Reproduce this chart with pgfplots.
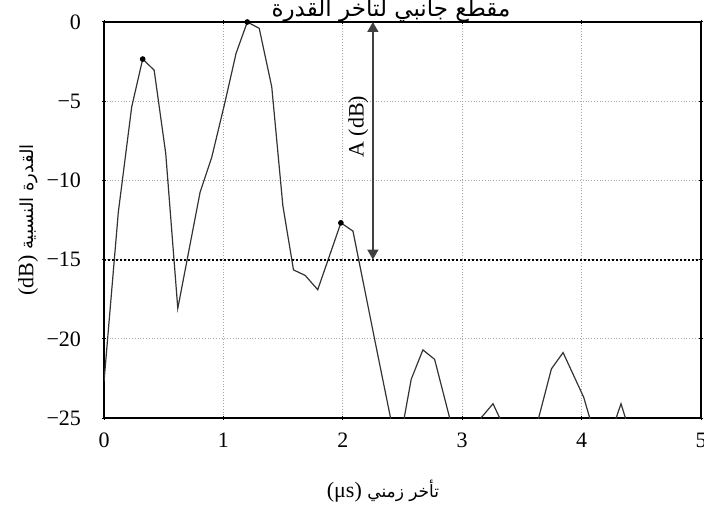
\documentclass[border=0pt]{standalone}
\usepackage{fontspec}
\setmainfont{Liberation Serif}
\newfontfamily\arabicfont[Script=Arabic]{DejaVu Sans}
\TeXXeTstate=1
\usepackage{pgfplots}
\pgfplotsset{compat=1.18}
\usetikzlibrary{arrows.meta}
\begin{document}
\begin{tikzpicture}
\begin{axis}[
 at={(0,0)}, anchor=south west,
 scale only axis, width=298.5pt, height=198pt,
 xmin=0,xmax=5,ymin=-25,ymax=0,
 xtick={0,1,2,3,4,5}, ytick={-25,-20,-15,-10,-5,0},
 yticklabels={−25,−20,−15,−10,−5,0},
 xticklabels={0,1,2,3,4,5},
 grid=major, major grid style={densely dotted, gray!70, line width=0.4pt},
 axis line style={line width=1pt},
 tick align=center, major tick length=2pt,
 tick style={black, line width=0.5pt},
 ticklabel style={font=\fontsize{11}{13}\selectfont},
 yticklabel style={xshift=-7pt},
 xticklabel style={yshift=-3pt},
]
\addplot[black!80, line width=0.6pt] coordinates {
(0,-22.7) (0.12,-12.0) (0.232,-5.36) (0.324,-2.34) (0.42,-3.04) (0.517,-8.3)
(0.618,-18.08) (0.805,-10.74) (0.903,-8.52) (1.014,-5.04) (1.106,-1.98) (1.2,0)
(1.30,-0.4) (1.405,-4.1) (1.498,-11.6) (1.587,-15.65) (1.685,-16.0) (1.79,-16.9)
(1.984,-12.68) (2.085,-13.2) (2.286,-20.76) (2.40,-25) (2.46,-35) (2.514,-25)
(2.573,-22.55) (2.671,-20.7) (2.769,-21.3) (2.895,-25) (3.03,-35) (3.157,-25)
(3.258,-24.1) (3.314,-25) (3.48,-35) (3.64,-25) (3.747,-21.9) (3.845,-20.87)
(4.018,-23.7) (4.068,-25) (4.18,-35) (4.289,-25) (4.33,-24.1) (4.367,-25) (4.45,-35)
};
\addplot[only marks, mark=*, mark size=1.2pt, black] coordinates {(0.324,-2.34) (1.2,0) (1.984,-12.68)};
\addplot[black, line width=1pt, dash pattern=on 1pt off 1pt] coordinates {(0,-15) (5,-15)};
\addplot[black!75, line width=0.8pt, {Triangle[length=5pt,width=5.5pt]}-{Triangle[length=5pt,width=5.5pt]}] coordinates {(2.252,0) (2.252,-15)};
\node[rotate=90, font=\fontsize{11}{13}\selectfont] at (axis cs:2.13,-6.6) {A (dB)};
\end{axis}
\node[anchor=base, font=\fontsize{11.5}{13}\selectfont] at (143.5pt,200.5pt) {\arabicfont\beginR مقطع جانبي لتأخر القدرة\endR};
\node[font=\fontsize{11}{13}\selectfont] at (139.5pt,-36.5pt) {(μs)~{\fontsize{8.5}{10}\arabicfont\beginR تأخر زمني\endR}};
\node[rotate=90, font=\fontsize{11}{13}\selectfont] at (-38pt,99pt) {(dB)~{\fontsize{9}{11}\arabicfont\beginR القدرة النسبية\endR}};
\pgfresetboundingbox
\useasboundingbox (-52pt,-50.5pt) rectangle (300pt,209pt);
\end{tikzpicture}
\end{document}
